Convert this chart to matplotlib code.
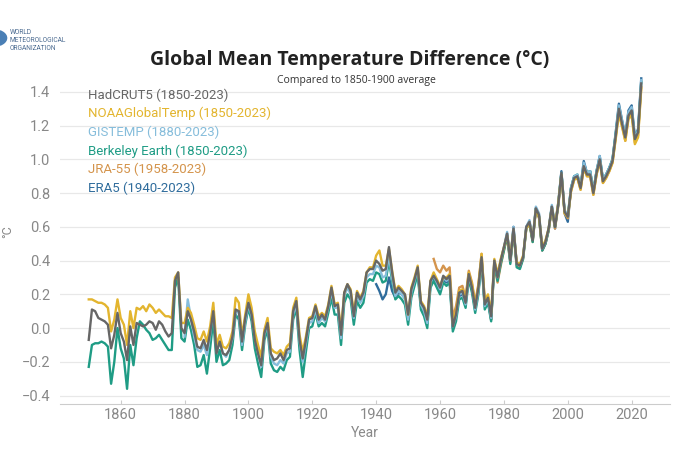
import matplotlib
matplotlib.use("Agg")
import matplotlib.pyplot as plt
from matplotlib.patches import Circle

plt.rcParams["font.family"] = ["Roboto", "DejaVu Sans"]

# anomalies vs 1850-1900
had_years = list(range(1850, 2024))
hadcrut5 = [
    -0.07, 0.11, 0.10, 0.06, 0.05, 0.04, 0.02, -0.12, -0.04, 0.09,
    -0.03, -0.08, -0.19, 0.01, -0.10, 0.03, 0.02, 0.01, 0.02, 0.04,
    0.03, -0.01, 0.04, 0.02, -0.02, -0.05, -0.03, 0.28, 0.33, 0.00,
    -0.03, 0.10, 0.05, -0.02, -0.11, -0.12, -0.07, -0.13, -0.03, 0.10,
    -0.15, -0.08, -0.15, -0.16, -0.13, -0.05, 0.11, 0.10, -0.08, 0.06,
    0.15, 0.08, -0.07, -0.15, -0.22, -0.03, 0.03, -0.15, -0.19, -0.18,
    -0.15, -0.19, -0.13, -0.12, 0.10, 0.16, -0.07, -0.18, -0.07, 0.05,
    0.06, 0.13, 0.05, 0.08, 0.05, 0.13, 0.24, 0.13, 0.14, -0.04,
    0.21, 0.26, 0.22, 0.07, 0.21, 0.17, 0.21, 0.33, 0.35, 0.35,
    0.40, 0.38, 0.34, 0.35, 0.48, 0.33, 0.21, 0.24, 0.22, 0.20,
    0.08, 0.23, 0.29, 0.36, 0.15, 0.12, 0.05, 0.28, 0.31, 0.28,
    0.24, 0.31, 0.29, 0.31, 0.01, 0.08, 0.21, 0.22, 0.15, 0.32,
    0.24, 0.12, 0.24, 0.42, 0.14, 0.18, 0.07, 0.40, 0.30, 0.40,
    0.48, 0.56, 0.40, 0.59, 0.38, 0.37, 0.42, 0.60, 0.63, 0.52,
    0.71, 0.67, 0.47, 0.51, 0.59, 0.72, 0.60, 0.73, 0.92, 0.69,
    0.66, 0.82, 0.89, 0.90, 0.83, 0.96, 0.91, 0.91, 0.80, 0.92,
    1.00, 0.87, 0.90, 0.94, 0.99, 1.14, 1.30, 1.21, 1.13, 1.26,
    1.29, 1.12, 1.16, 1.45,
]
noaa_years = list(range(1850, 2024))
noaa = [
    0.17, 0.17, 0.16, 0.15, 0.15, 0.14, 0.12, -0.02, 0.05, 0.17,
    0.06, 0.02, -0.10, 0.10, 0.00, 0.12, 0.11, 0.13, 0.10, 0.14,
    0.12, 0.09, 0.11, 0.09, 0.07, 0.07, 0.06, 0.30, 0.33, 0.03,
    0.03, 0.12, 0.09, 0.02, -0.06, -0.07, -0.02, -0.08, 0.01, 0.15,
    -0.10, -0.04, -0.11, -0.12, -0.09, -0.02, 0.18, 0.15, -0.05, 0.08,
    0.20, 0.12, -0.02, -0.10, -0.17, -0.01, 0.06, -0.12, -0.14, -0.15,
    -0.13, -0.16, -0.11, -0.09, 0.12, 0.18, -0.04, -0.14, -0.05, 0.06,
    0.07, 0.14, 0.07, 0.09, 0.07, 0.14, 0.25, 0.14, 0.15, -0.01,
    0.21, 0.26, 0.23, 0.09, 0.22, 0.18, 0.22, 0.33, 0.36, 0.36,
    0.43, 0.46, 0.37, 0.37, 0.47, 0.34, 0.22, 0.25, 0.23, 0.20,
    0.08, 0.24, 0.30, 0.37, 0.16, 0.13, 0.07, 0.28, 0.33, 0.29,
    0.25, 0.30, 0.30, 0.32, 0.03, 0.10, 0.22, 0.23, 0.17, 0.33,
    0.26, 0.14, 0.25, 0.44, 0.16, 0.20, 0.09, 0.41, 0.32, 0.41,
    0.48, 0.55, 0.42, 0.58, 0.39, 0.38, 0.43, 0.59, 0.62, 0.53,
    0.70, 0.66, 0.48, 0.52, 0.59, 0.71, 0.61, 0.74, 0.91, 0.68,
    0.66, 0.81, 0.88, 0.89, 0.82, 0.95, 0.90, 0.90, 0.79, 0.91,
    0.99, 0.86, 0.89, 0.93, 0.98, 1.12, 1.27, 1.19, 1.11, 1.24,
    1.26, 1.09, 1.13, 1.42,
]
gis_years = list(range(1880, 2024))
gistemp = [
    -0.05, 0.17, 0.06, -0.05, -0.13, -0.14, -0.10, -0.16, -0.04, 0.12,
    -0.14, -0.08, -0.15, -0.17, -0.13, -0.06, 0.10, 0.09, -0.10, 0.04,
    0.14, 0.07, -0.06, -0.15, -0.23, -0.04, 0.02, -0.17, -0.21, -0.22,
    -0.19, -0.21, -0.15, -0.14, 0.08, 0.14, -0.08, -0.20, -0.09, 0.03,
    0.04, 0.11, 0.03, 0.06, 0.04, 0.12, 0.22, 0.12, 0.12, -0.06,
    0.19, 0.24, 0.20, 0.06, 0.20, 0.15, 0.19, 0.30, 0.32, 0.32,
    0.37, 0.36, 0.30, 0.31, 0.43, 0.30, 0.19, 0.22, 0.20, 0.17,
    0.05, 0.21, 0.28, 0.35, 0.14, 0.10, 0.03, 0.27, 0.31, 0.27,
    0.23, 0.30, 0.28, 0.30, 0.01, 0.07, 0.20, 0.21, 0.14, 0.31,
    0.24, 0.11, 0.22, 0.42, 0.13, 0.17, 0.06, 0.40, 0.30, 0.40,
    0.48, 0.57, 0.40, 0.60, 0.38, 0.37, 0.42, 0.60, 0.64, 0.53,
    0.72, 0.68, 0.47, 0.51, 0.59, 0.73, 0.61, 0.74, 0.92, 0.70,
    0.67, 0.83, 0.90, 0.91, 0.84, 0.98, 0.92, 0.93, 0.81, 0.93,
    1.02, 0.88, 0.91, 0.95, 1.00, 1.15, 1.32, 1.23, 1.14, 1.28,
    1.31, 1.13, 1.17, 1.47,
]
bk_years = list(range(1850, 2024))
berkeley = [
    -0.23, -0.10, -0.09, -0.09, -0.08, -0.09, -0.11, -0.33, -0.20, 0.00,
    -0.12, -0.18, -0.36, -0.10, -0.22, -0.06, 0.04, 0.02, -0.01, -0.03,
    -0.07, -0.06, -0.04, -0.07, -0.10, -0.13, -0.13, 0.24, 0.30, -0.06,
    -0.08, 0.05, -0.01, -0.10, -0.23, -0.22, -0.16, -0.27, -0.12, 0.05,
    -0.20, -0.13, -0.22, -0.21, -0.19, -0.10, 0.08, 0.05, -0.13, 0.02,
    0.12, 0.04, -0.12, -0.21, -0.29, -0.07, -0.01, -0.21, -0.25, -0.26,
    -0.23, -0.25, -0.19, -0.17, 0.05, 0.12, -0.13, -0.29, -0.14, 0.00,
    0.01, 0.09, 0.01, 0.03, 0.01, 0.09, 0.18, 0.08, 0.08, -0.10,
    0.15, 0.20, 0.17, 0.02, 0.16, 0.12, 0.15, 0.27, 0.29, 0.28,
    0.33, 0.32, 0.27, 0.28, 0.40, 0.28, 0.17, 0.19, 0.17, 0.14,
    0.02, 0.18, 0.25, 0.32, 0.11, 0.07, 0.00, 0.24, 0.28, 0.24,
    0.20, 0.27, 0.25, 0.27, -0.02, 0.04, 0.17, 0.18, 0.12, 0.29,
    0.21, 0.09, 0.20, 0.40, 0.11, 0.15, 0.04, 0.38, 0.28, 0.38,
    0.46, 0.55, 0.38, 0.58, 0.36, 0.35, 0.41, 0.59, 0.62, 0.51,
    0.71, 0.66, 0.46, 0.50, 0.58, 0.72, 0.60, 0.73, 0.92, 0.69,
    0.66, 0.83, 0.90, 0.91, 0.84, 0.97, 0.92, 0.93, 0.81, 0.93,
    1.01, 0.88, 0.91, 0.95, 1.00, 1.15, 1.31, 1.22, 1.13, 1.27,
    1.30, 1.12, 1.16, 1.46,
]
jra_years = list(range(1958, 2024))
jra55 = [
    0.41, 0.35,
    0.33, 0.37, 0.34, 0.36, 0.06, 0.13, 0.24, 0.25, 0.18, 0.34,
    0.27, 0.15, 0.26, 0.44, 0.16, 0.19, 0.05, 0.38, 0.27, 0.37,
    0.46, 0.54, 0.39, 0.58, 0.37, 0.36, 0.41, 0.59, 0.62, 0.51,
    0.70, 0.65, 0.46, 0.50, 0.58, 0.71, 0.59, 0.72, 0.91, 0.68,
    0.65, 0.81, 0.88, 0.89, 0.82, 0.95, 0.90, 0.90, 0.79, 0.91,
    0.99, 0.86, 0.89, 0.93, 0.98, 1.13, 1.29, 1.20, 1.11, 1.25,
    1.28, 1.10, 1.14, 1.43,
]
era_years = list(range(1940, 2024))
era5 = [
    0.26, 0.22, 0.17, 0.20, 0.30, 0.22, 0.18, 0.21, 0.20, 0.18,
    0.06, 0.21, 0.27, 0.34, 0.13, 0.10, 0.03, 0.26, 0.30, 0.26,
    0.22, 0.29, 0.27, 0.29, 0.00, 0.07, 0.19, 0.20, 0.14, 0.31,
    0.23, 0.11, 0.22, 0.41, 0.13, 0.16, 0.05, 0.39, 0.29, 0.39,
    0.47, 0.56, 0.40, 0.60, 0.38, 0.36, 0.42, 0.60, 0.63, 0.52,
    0.71, 0.66, 0.46, 0.50, 0.58, 0.72, 0.59, 0.74, 0.93, 0.68,
    0.63, 0.83, 0.90, 0.90, 0.84, 0.99, 0.92, 0.93, 0.81, 0.93,
    1.02, 0.88, 0.91, 0.95, 1.00, 1.16, 1.33, 1.23, 1.14, 1.29,
    1.32, 1.13, 1.18, 1.48,
]

labels = ["HadCRUT5 (1850-2023)", "NOAAGlobalTemp (1850-2023)", "GISTEMP (1880-2023)",
          "Berkeley Earth (1850-2023)", "JRA-55 (1958-2023)", "ERA5 (1940-2023)"]
colors = ["#666666", "#e3b52f", "#86bddb", "#1f9c85", "#d4944c", "#2f6c9c"]
series = [(had_years, hadcrut5), (noaa_years, noaa), (gis_years, gistemp),
          (bk_years, berkeley), (jra_years, jra55), (era_years, era5)]

fig = plt.figure(figsize=(7, 4.5), dpi=100)
ax = fig.add_axes([60 / 700, 46 / 450, 610 / 700, 329 / 450])

# draw last legend entry first so HadCRUT5 ends up on top
for (xs, ys), c in reversed(list(zip(series, colors))):
    ax.plot(xs, ys, color=c, lw=1.7, solid_joinstyle="round")

ax.set_xlim(1841, 2032)
ax.set_ylim(-0.45, 1.5)
ax.set_yticks([-0.4, -0.2, 0.0, 0.2, 0.4, 0.6, 0.8, 1.0, 1.2, 1.4])
ax.set_yticklabels(["\u22120.4", "\u22120.2", "0.0", "0.2", "0.4", "0.6", "0.8", "1.0", "1.2", "1.4"])
ax.set_xticks(range(1860, 2021, 20))
ax.grid(axis="y", color="#e8e8e8", lw=0.9)
ax.set_axisbelow(True)
for s in ["top", "right", "left"]:
    ax.spines[s].set_visible(False)
ax.spines["bottom"].set_color("#cccccc")
ax.tick_params(axis="y", length=0, labelsize=10.5, labelcolor="#888888", pad=7)
ax.tick_params(axis="x", length=3, direction="in", color="#cccccc", labelsize=10.5,
               labelcolor="#888888", pad=3)
ax.set_xlabel("Year", color="#888888", fontsize=10, labelpad=3)

fig.text(8 / 700, 1 - 232 / 450, "\u00b0C", rotation=90, color="#888888", fontsize=9,
         ha="center", va="center")

# legend as coloured text
for i, (lab, c) in enumerate(zip(labels, colors)):
    fig.text(88 / 700, 1 - (95 + i * 18.7) / 450, lab, color=c, fontsize=9.5,
             ha="left", va="center")

fig.text(350 / 700, 1 - 60 / 450, "Global Mean Temperature Difference (\u00b0C)",
         family=["Open Sans", "DejaVu Sans"], weight="bold", fontsize=14, color="#222222",
         ha="center", va="center")
fig.text(356 / 700, 1 - 81 / 450, "Compared to 1850-1900 average",
         family=["Open Sans", "DejaVu Sans"], fontsize=7.5, color="#333333",
         ha="center", va="center")

# WMO logo
fig.patches.append(Circle((-6 / 700, 1 - 38 / 450), 0.018, transform=fig.transFigure,
                          color="#4a7fb5", zorder=5))
for j, w in enumerate(["WORLD", "METEOROLOGICAL", "ORGANIZATION"]):
    fig.text(10 / 700, 1 - (32 + j * 8.5) / 450, w, color="#4a6a90", fontsize=4.8,
             ha="left", va="center")

fig.savefig("out.png", dpi=100)
